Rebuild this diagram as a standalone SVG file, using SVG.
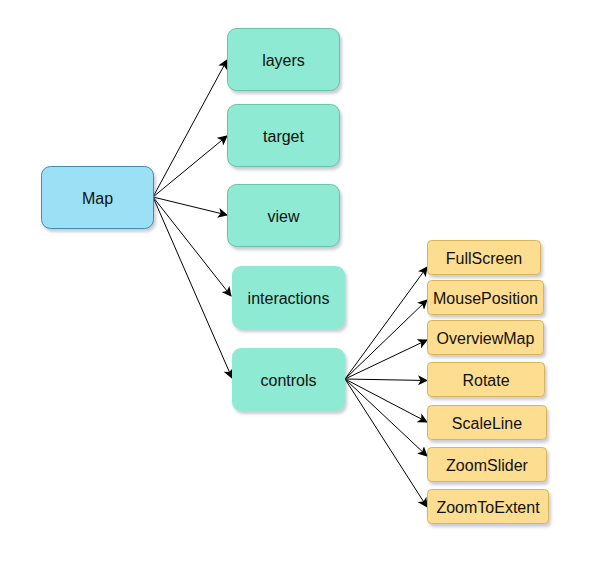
<svg xmlns="http://www.w3.org/2000/svg" width="614" height="563" viewBox="0 0 614 563">
<defs>
<filter id="sh" x="-20%" y="-20%" width="140%" height="160%">
<feDropShadow dx="2" dy="3" stdDeviation="1.5" flood-color="#6a6a8a" flood-opacity="0.35"/>
</filter>
<marker id="arr" viewBox="0 0 10 10" refX="9" refY="5" markerWidth="10" markerHeight="10" markerUnits="userSpaceOnUse" orient="auto">
<path d="M0,0 L10,5 L0,10 L2.5,5 Z" fill="#000"/>
</marker>
<style>
.blue{fill:#9ce0f5;stroke:#3d8db3;stroke-width:1;filter:url(#sh)}
.green{fill:#8eead2;stroke:#67c2a5;stroke-width:1;filter:url(#sh)}
.green2{fill:#8eead2;stroke:none;filter:url(#sh)}
.yel{fill:#fddd90;stroke:#d8b55a;stroke-width:1;filter:url(#sh)}
text{font-family:"Liberation Sans",Arial,sans-serif;font-size:16px;fill:#111;text-anchor:middle;dominant-baseline:central}
.e{stroke:#000;stroke-width:1;fill:none;marker-end:url(#arr)}
</style>
</defs>
<rect width="614" height="563" fill="#fff"/>
<g id="connectors">
<line class="e" x1="153" y1="197" x2="227" y2="60"/>
<line class="e" x1="153" y1="197" x2="227" y2="136"/>
<line class="e" x1="153" y1="197" x2="227" y2="215"/>
<line class="e" x1="153" y1="197" x2="231" y2="296"/>
<line class="e" x1="153" y1="197" x2="232" y2="378"/>
<line class="e" x1="345" y1="379" x2="427" y2="267"/>
<line class="e" x1="345" y1="379" x2="427" y2="300"/>
<line class="e" x1="345" y1="379" x2="427" y2="340"/>
<line class="e" x1="345" y1="379" x2="427" y2="380.5"/>
<line class="e" x1="345" y1="379" x2="427" y2="422"/>
<line class="e" x1="345" y1="379" x2="427" y2="456"/>
<line class="e" x1="345" y1="379" x2="427" y2="507"/>
</g>
<g id="map"><rect class="blue" x="41.5" y="166.5" width="112" height="62" rx="9"/><text x="97.5" y="198">Map</text></g>
<g id="layers"><rect class="green" x="227.5" y="28.5" width="112" height="62" rx="9"/><text x="283.5" y="60">layers</text></g>
<g id="target"><rect class="green" x="227.5" y="104.5" width="112" height="62" rx="9"/><text x="283.5" y="136">target</text></g>
<g id="view"><rect class="green" x="227.5" y="184.5" width="112" height="62" rx="9"/><text x="283.5" y="216">view</text></g>
<g id="interactions"><rect class="green2" x="232" y="266" width="113" height="63" rx="9"/><text x="288.5" y="298">interactions</text></g>
<g id="controls"><rect class="green2" x="232" y="348" width="113" height="63" rx="9"/><text x="288.5" y="380">controls</text></g>
<g id="fullscreen"><rect class="yel" x="427.5" y="240.5" width="113" height="34" rx="4"/><text x="484" y="258">FullScreen</text></g>
<g id="mouseposition"><rect class="yel" x="427.5" y="280.5" width="116" height="34" rx="4"/><text x="485.5" y="298">MousePosition</text></g>
<g id="overviewmap"><rect class="yel" x="427.5" y="320.5" width="116" height="34" rx="4"/><text x="485.5" y="338">OverviewMap</text></g>
<g id="rotate"><rect class="yel" x="427.5" y="362.5" width="117" height="34" rx="4"/><text x="486" y="380">Rotate</text></g>
<g id="scaleline"><rect class="yel" x="427.5" y="405.5" width="119" height="34" rx="4"/><text x="487" y="423">ScaleLine</text></g>
<g id="zoomslider"><rect class="yel" x="427.5" y="447.5" width="119" height="34" rx="4"/><text x="487" y="465">ZoomSlider</text></g>
<g id="zoomtoextent"><rect class="yel" x="427.5" y="489.5" width="121" height="34" rx="4"/><text x="488" y="507">ZoomToExtent</text></g>
</svg>
